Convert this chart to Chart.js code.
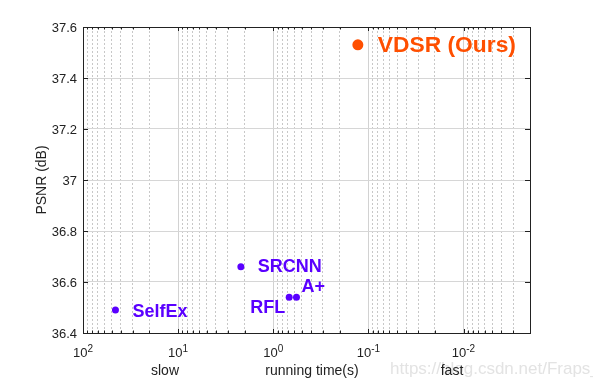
<!DOCTYPE html>
<html>
<head>
<meta charset="utf-8">
<script src="https://cdn.jsdelivr.net/npm/chart.js@4.4.0/dist/chart.umd.min.js"></script>
<style>
  html, body { margin: 0; padding: 0; background: #fff; }
  #wrap { width: 593px; height: 386px; }
</style>
</head>
<body>
<div id="wrap"><canvas id="psnrChart" width="593" height="386"></canvas></div>
<script>
// data
const methods = ["SelfEx", "SRCNN", "RFL", "A+", "VDSR (Ours)"];
const runTimes = [45.6, 2.19, 0.68, 0.57, 0.129];
const psnrValues = [36.49, 36.66, 36.54, 36.54, 37.53];

const xMajorTicks = [100, 10, 1, 0.1, 0.01];
const xTickExponents = ["2", "1", "0", "-1", "-2"];
const yTickValues = [36.4, 36.6, 36.8, 37, 37.2, 37.4, 37.6];
const yTickLabels = ["36.4", "36.6", "36.8", "37", "37.2", "37.4", "37.6"];

const FONT = "'Liberation Sans', Arial, sans-serif";
const OURS = "#ff4f00";
const OTHERS = "#5a00ff";

// where each method's name sits next to its dot
const labelPlace = {
  "SelfEx": { dx: 17, dy: 2, align: "left", size: 18 },
  "SRCNN": { dx: 17, dy: 0, align: "left", size: 18 },
  "RFL": { dx: -4, dy: 11, align: "right", size: 18 },
  "A+": { dx: 5, dy: -10, align: "left", size: 18 },
  "VDSR (Ours)": { dx: 20, dy: 1, align: "left", size: 22.8 }
};

function isDecade(v) {
  const l = Math.log10(v);
  return Math.abs(l - Math.round(l)) < 1e-6;
}

const decorPlugin = {
  id: "decor",
  afterDraw(chart) {
    const ctx = chart.ctx;
    const a = chart.chartArea;
    const x = chart.scales.x;
    const y = chart.scales.y;
    ctx.save();

    // inward tick marks
    ctx.strokeStyle = "#222";
    ctx.lineWidth = 1;
    ctx.beginPath();
    x.ticks.forEach(function(t) {
      const px = Math.round(x.getPixelForValue(t.value)) + 0.5;
      const len = t.major ? 4 : 2.5;
      ctx.moveTo(px, a.bottom);
      ctx.lineTo(px, a.bottom - len);
      ctx.moveTo(px, a.top);
      ctx.lineTo(px, a.top + len);
    });
    yTickValues.forEach(function(v) {
      const py = Math.round(y.getPixelForValue(v)) + 0.5;
      ctx.moveTo(a.left, py);
      ctx.lineTo(a.left + 5, py);
      ctx.moveTo(a.right, py);
      ctx.lineTo(a.right - 5, py);
    });
    ctx.stroke();

    // frame
    ctx.strokeRect(Math.round(a.left) + 0.5, Math.round(a.top) + 0.5,
      Math.round(a.right - a.left), Math.round(a.bottom - a.top));

    // y tick labels
    ctx.fillStyle = "#222";
    ctx.font = "13px " + FONT;
    ctx.textAlign = "right";
    ctx.textBaseline = "middle";
    yTickValues.forEach(function(v, i) {
      ctx.fillText(yTickLabels[i], a.left - 6, y.getPixelForValue(v) + 1);
    });

    // x tick labels 10^n
    ctx.textAlign = "left";
    ctx.textBaseline = "alphabetic";
    xMajorTicks.forEach(function(v, i) {
      const px = x.getPixelForValue(v);
      ctx.font = "13px " + FONT;
      const wBase = ctx.measureText("10").width;
      ctx.font = "10px " + FONT;
      const wExp = ctx.measureText(xTickExponents[i]).width;
      const start = px - (wBase + wExp) / 2;
      ctx.font = "13px " + FONT;
      ctx.fillText("10", start, a.bottom + 24);
      ctx.font = "10px " + FONT;
      ctx.fillText(xTickExponents[i], start + wBase, a.bottom + 18.5);
    });

    // watermark (under the axis words)
    ctx.font = "17px " + FONT;
    ctx.fillStyle = "#e3e3e3";
    ctx.textAlign = "left";
    ctx.textBaseline = "middle";
    ctx.fillText("https://blog.csdn.net/Fraps_", 390, 369);

    // axis titles
    ctx.fillStyle = "#222";
    ctx.font = "14px " + FONT;
    ctx.textAlign = "center";
    ctx.fillText("slow", 165, 371);
    ctx.fillText("running time(s)", 312, 371);
    ctx.fillText("fast", 452, 371);
    ctx.save();
    ctx.translate(42, (a.top + a.bottom) / 2);
    ctx.rotate(-Math.PI / 2);
    ctx.fillText("PSNR (dB)", 0, 0);
    ctx.restore();

    // method names
    methods.forEach(function(m, i) {
      const p = labelPlace[m];
      const px = x.getPixelForValue(runTimes[i]);
      const py = y.getPixelForValue(psnrValues[i]);
      ctx.font = "bold " + p.size + "px " + FONT;
      ctx.fillStyle = i === methods.length - 1 ? OURS : OTHERS;
      ctx.textAlign = p.align;
      ctx.fillText(m, px + p.dx, py + p.dy);
    });

    ctx.restore();
  }
};

const ctx = document.getElementById("psnrChart").getContext("2d");
new Chart(ctx, {
  type: "scatter",
  data: {
    labels: methods,
    datasets: [{
      data: runTimes.map(function(t, i) { return { x: t, y: psnrValues[i] }; }),
      pointBackgroundColor: methods.map(function(m, i) { return i === methods.length - 1 ? OURS : OTHERS; }),
      pointBorderWidth: 0,
      pointRadius: methods.map(function(m, i) { return i === methods.length - 1 ? 5.5 : 3.5; }),
      pointHoverRadius: 0
    }]
  },
  options: {
    responsive: false,
    animation: false,
    devicePixelRatio: 1,
    layout: { padding: { left: 83, right: 63, top: 27, bottom: 53 } },
    plugins: {
      legend: { display: false },
      tooltip: { enabled: false }
    },
    scales: {
      x: {
        type: "logarithmic",
        reverse: true,
        min: 0.002,
        max: 100,
        afterBuildTicks: function(scale) {
          const ticks = [];
          for (let e = -3; e <= 2; e++) {
            for (let k = 1; k <= 9; k++) {
              const v = Math.round(k * Math.pow(10, e) * 1e6) / 1e6;
              if (v >= 0.002 && v <= 100) ticks.push({ value: v, major: isDecade(v) });
            }
          }
          scale.ticks = ticks;
        },
        ticks: { display: false },
        border: {
          display: false,
          dash: function(c) { return c.tick && c.tick.major ? [] : [2, 2]; }
        },
        grid: {
          drawTicks: false,
          lineWidth: 1,
          color: function(c) { return c.tick && c.tick.major ? "#d2d2d2" : "#c8c8c8"; }
        }
      },
      y: {
        min: 36.4,
        max: 37.6,
        ticks: { display: false, stepSize: 0.2 },
        border: { display: false },
        grid: { drawTicks: false, lineWidth: 1, color: "#d6d6d6" }
      }
    }
  },
  plugins: [decorPlugin]
});
</script>
</body>
</html>
